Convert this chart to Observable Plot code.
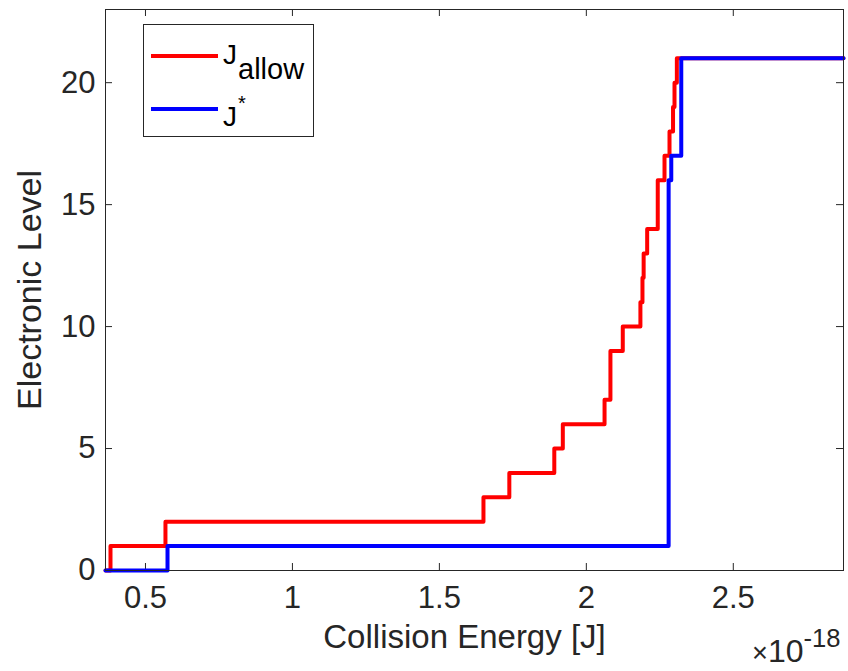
<!DOCTYPE html>
<html>
<head>
<meta charset="utf-8">
<script src="https://cdn.jsdelivr.net/npm/d3@7"></script>
<script src="https://cdn.jsdelivr.net/npm/@observablehq/plot@0.6"></script>
<style>
  html, body { margin: 0; padding: 0; background: #fff; }
  #wrap { position: relative; width: 848px; height: 671px; font-family: "Liberation Sans", Arial, sans-serif; }
  #legend { position: absolute; left: 143px; top: 24px; width: 169px; height: 111px; border: 1px solid #262626; background: #fff; }
</style>
</head>
<body>
<div id="wrap"></div>
<script>
// ---- data (collision energy in units of 1e-18 J) ----
const allowEnergy = [0.364, 0.381, 0.568, 1.650, 1.738, 1.891, 1.920, 2.062, 2.082, 2.124, 2.184, 2.191, 2.195, 2.207, 2.243, 2.266, 2.283, 2.295, 2.300, 2.308, 2.875];
const allowLevel  = [0,     1,     2,     3,     4,     5,     6,     7,     9,     10,    11,    12,    13,    14,    16,    17,    18,    19,    20,    21,    21];
const starEnergy  = [0.364, 0.575, 2.280, 2.289, 2.323, 2.875];
const starLevel   = [0,     1,     16,    17,    21,    21];
const xTicks = [0.5, 1, 1.5, 2, 2.5];
const yTicks = [0, 5, 10, 15, 20];
const xDomain = [0.364, 2.875];
const yDomain = [0, 23];

const allow = allowEnergy.map((e, i) => ({energy: e, level: allowLevel[i]}));
const star = starEnergy.map((e, i) => ({energy: e, level: starLevel[i]}));

const W = 848, H = 671, mL = 105, mR = 5, mT = 9, mB = 101;
const frameH = H - mT - mB, frameW = W - mL - mR;
const tickLen = 7;
const axisColor = "#262626";

const chart = Plot.plot({
  width: W, height: H,
  marginLeft: mL, marginRight: mR, marginTop: mT, marginBottom: mB,
  style: {fontFamily: "Liberation Sans, Arial, sans-serif", background: "#fff", overflow: "visible"},
  x: {domain: xDomain, ticks: xTicks},
  y: {domain: yDomain, ticks: yTicks},
  marks: [
    Plot.axisX(xTicks, {tickSize: 0, tickPadding: 15, fontSize: 31, fill: axisColor, label: null, tickFormat: d => String(d)}),
    Plot.axisY(yTicks, {tickSize: 0, tickPadding: 10, fontSize: 31, fill: axisColor, label: null, tickFormat: d => String(d)}),
    Plot.tickX(xTicks, {x: d => d, stroke: axisColor, insetTop: frameH - tickLen}),
    Plot.tickX(xTicks, {x: d => d, stroke: axisColor, insetBottom: frameH - tickLen}),
    Plot.tickY(yTicks, {y: d => d, stroke: axisColor, insetRight: frameW - tickLen}),
    Plot.tickY(yTicks, {y: d => d, stroke: axisColor, insetLeft: frameW - tickLen}),
    Plot.line(allow, {x: "energy", y: "level", curve: "step-after", stroke: "#ff0000", strokeWidth: 4}),
    Plot.line(star, {x: "energy", y: "level", curve: "step-after", stroke: "#0000ff", strokeWidth: 4}),
    Plot.frame({stroke: axisColor, strokeWidth: 1}),
    Plot.text(["Collision Energy [J]"], {frameAnchor: "bottom", textAnchor: "middle", dy: 77, dx: -10, fontSize: 33, fill: axisColor}),
    Plot.text(["Electronic Level"], {frameAnchor: "left", textAnchor: "middle", rotate: -90, dx: -75, fontSize: 34, fill: axisColor}),
    Plot.text(["×10-18"], {frameAnchor: "bottom-right", textAnchor: "end", dy: 91, dx: -3, fontSize: 32, fill: axisColor, className: "expo"})
  ]
});

// rich text for the exponent label
d3.select(chart).selectAll(".expo text").each(function() {
  const t = d3.select(this);
  t.text(null);
  t.append("tspan").attr("font-size", "0.85em").text("×");
  t.append("tspan").text("10");
  t.append("tspan").attr("dy", "-0.55em").attr("font-size", "0.8em").text("-18");
});

const wrap = document.getElementById("wrap");
wrap.appendChild(chart);

// legend
const legend = document.createElement("div");
legend.id = "legend";
legend.innerHTML = `
<svg width="169" height="111" style="display:block;font-family:'Liberation Sans',Arial,sans-serif">
  <line x1="7" x2="74" y1="31" y2="31" stroke="#ff0000" stroke-width="4"/>
  <text x="79" y="39" font-size="28" fill="#000">J<tspan font-size="29" dy="15" dx="1">allow</tspan></text>
  <line x1="7" x2="74" y1="84" y2="84" stroke="#0000ff" stroke-width="4"/>
  <text x="79" y="101" font-size="28" fill="#000">J<tspan font-size="20" dy="-16" dx="1">*</tspan></text>
</svg>`;
wrap.appendChild(legend);
</script>
</body>
</html>
